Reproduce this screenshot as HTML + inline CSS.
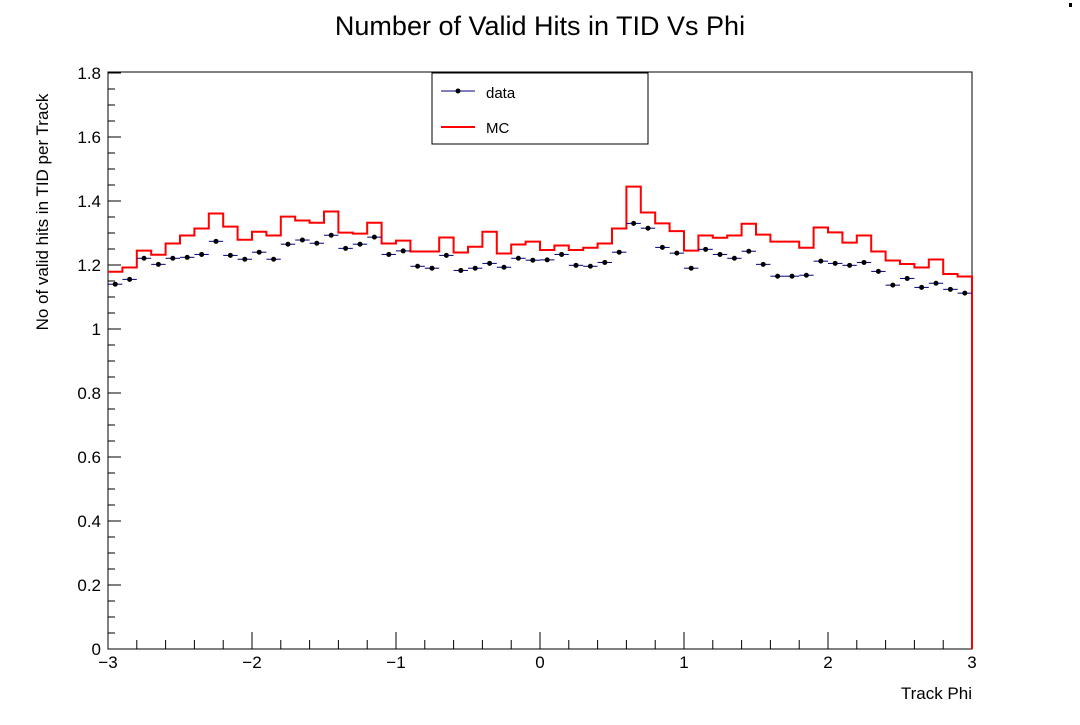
<!DOCTYPE html>
<html><head><meta charset="utf-8"><style>
html,body{margin:0;padding:0;background:#fff;}
svg text{font-family:"Liberation Sans",Arial,sans-serif;}
</style></head><body>
<svg id="chart" width="1080" height="720" xmlns="http://www.w3.org/2000/svg">
<rect x="0" y="0" width="1080" height="720" fill="#fff"/>
<rect x="1069" y="3" width="3" height="4" fill="#000"/>
<text x="540" y="35" font-size="27" text-anchor="middle">Number of Valid Hits in TID Vs Phi</text>
<g id="plot"></g>
<text x="972" y="699" font-size="17" text-anchor="end">Track Phi</text>
<text transform="translate(48,212) rotate(-90)" font-size="17" text-anchor="middle">No of valid hits in TID per Track</text>
<g>
<rect x="432" y="73" width="216" height="71" fill="#fff" stroke="#000" stroke-width="1"/>
<g>
<line x1="441" y1="91" x2="475" y2="91" stroke="#000080" stroke-width="1"/>
<circle cx="458" cy="91" r="2.5" fill="#000"/>
<text x="486" y="98" font-size="15">data</text>
</g>
<g>
<line x1="441" y1="127" x2="475" y2="127" stroke="#f00" stroke-width="2"/>
<text x="486" y="133" font-size="15">MC</text>
</g>
</g>
</svg>
<script>
const dataValues=[1.140,1.155,1.221,1.202,1.221,1.224,1.233,1.274,1.230,1.218,1.240,1.218,1.265,1.278,1.268,1.293,1.252,1.265,1.287,1.233,1.244,1.196,1.190,1.230,1.183,1.190,1.205,1.193,1.221,1.215,
1.216,1.233,1.199,1.196,1.208,1.240,1.330,1.315,1.255,1.237,1.190,1.249,1.233,1.221,1.243,1.202,1.165,1.165,1.168,1.212,1.205,1.199,1.208,1.180,1.137,1.158,1.130,1.143,1.124,1.112];
const mcValues=[1.179,1.192,1.245,1.232,1.267,1.292,1.314,1.361,1.320,1.279,1.304,1.292,1.351,1.339,1.332,1.367,1.301,1.298,1.332,1.267,1.276,1.242,1.242,1.286,1.239,1.257,1.304,1.236,1.264,1.273,
1.247,1.261,1.247,1.254,1.267,1.314,1.445,1.364,1.330,1.306,1.245,1.292,1.285,1.292,1.329,1.295,1.273,1.273,1.254,1.317,1.302,1.270,1.292,1.242,1.214,1.203,1.192,1.217,1.172,1.164];
const xTickLabels=["−3","−2","−1","0","1","2","3"];
const xTickValues=[-3,-2,-1,0,1,2,3];
const yTickLabels=["0","0.2","0.4","0.6","0.8","1","1.2","1.4","1.6","1.8"];
const yTickValues=[0,0.2,0.4,0.6,0.8,1,1.2,1.4,1.6,1.8];
const xMin=-3,xMax=3,yMin=0,yMax=1.8;
const L=108,R=972,B=649,T=73;
const sx=v=>L+(v-xMin)/(xMax-xMin)*(R-L);
const sy=v=>B-(v-yMin)/(yMax-yMin)*(B-T);
const NS="http://www.w3.org/2000/svg";
const g=document.getElementById('plot');
function mk(t,a){const e=document.createElementNS(NS,t);for(const k in a)e.setAttribute(k,a[k]);g.appendChild(e);return e;}
const frame=mk('rect',{x:L,y:72,width:R-L,height:B-72,fill:'none',stroke:'#000','stroke-width':1});


for(let i=0;i<=30;i++){const v=xMin+i*0.2;const x=sx(v);const major=i%5===0;
const t=mk('line',{x1:x,y1:B,x2:x,y2:B-(major?17:9),stroke:'#000','stroke-width':1});

}
xTickValues.forEach((v,i)=>{const t=mk('text',{x:sx(v),y:668,'font-size':17,'text-anchor':'middle'});t.textContent=xTickLabels[i];

});
for(let i=0;i<=36;i++){const v=i*0.05;const y=sy(v);const major=i%4===0;
const t=mk('line',{x1:L,y1:y,x2:L+(major?13:7),y2:y,stroke:'#000','stroke-width':1});

}
yTickValues.forEach((v,i)=>{const t=mk('text',{x:101,y:sy(v)+6,'font-size':17,'text-anchor':'end'});t.textContent=yTickLabels[i];

});
const n=mcValues.length,bw=(xMax-xMin)/n;
let d='M'+sx(xMin)+','+sy(mcValues[0]);
mcValues.forEach((v,i)=>{d+=' L'+sx(xMin+i*bw)+','+sy(v)+' L'+sx(xMin+(i+1)*bw)+','+sy(v);});
d+=' L'+sx(xMax)+','+sy(0);
const mc=mk('path',{d:d,fill:'none',stroke:'#f00','stroke-width':2});


const nd=dataValues.length,bwd=(xMax-xMin)/nd;
dataValues.forEach((v,i)=>{const x0=sx(xMin+i*bwd),x1=sx(xMin+(i+1)*bwd),y=sy(v);
const e=mk('line',{x1:x0,y1:y,x2:x1,y2:y,stroke:'#000080','stroke-width':1});


const c=mk('circle',{cx:(x0+x1)/2,cy:y,r:2.5,fill:'#000'});

});
</script>
</body></html>
